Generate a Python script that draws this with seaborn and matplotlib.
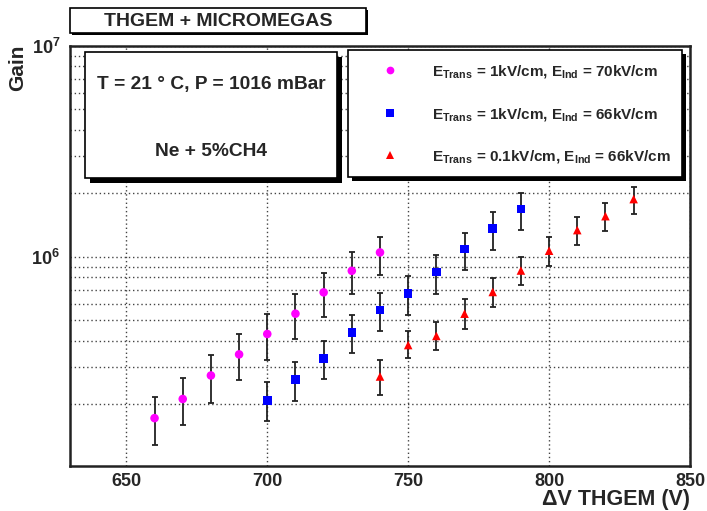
import numpy as np
import pandas as pd
import matplotlib
matplotlib.use("Agg")
import matplotlib.pyplot as plt
import seaborn as sns
from matplotlib.patches import Rectangle
from matplotlib.ticker import LogLocator, MultipleLocator, FixedLocator, NullFormatter, LogFormatterSciNotation

# ---------------- data ----------------
lab_mag = r"E$_{\mathrm{Trans}}$ = 1kV/cm, E$_{\mathrm{Ind}}$ = 70kV/cm"
lab_blue = r"E$_{\mathrm{Trans}}$ = 1kV/cm, E$_{\mathrm{Ind}}$ = 66kV/cm"
lab_red = r"E$_{\mathrm{Trans}}$ = 0.1kV/cm, E$_{\mathrm{Ind}}$ = 66kV/cm"

v_mag = [660, 670, 680, 690, 700, 710, 720, 730, 740]
g_mag = [1.72e5, 2.12e5, 2.74e5, 3.45e5, 4.31e5, 5.38e5, 6.79e5, 8.59e5, 1.05e6]
hi_mag = [2.17e5, 2.66e5, 3.41e5, 4.31e5, 5.36e5, 6.64e5, 8.4e5, 1.05e6, 1.24e6]
lo_mag = [1.28e5, 1.6e5, 2.04e5, 2.61e5, 3.25e5, 4.07e5, 5.2e5, 6.67e5, 8.25e5]

v_blue = [700, 710, 720, 730, 740, 750, 760, 770, 780, 790]
g_blue = [2.08e5, 2.62e5, 3.3e5, 4.38e5, 5.6e5, 6.72e5, 8.47e5, 1.09e6, 1.36e6, 1.69e6]
hi_blue = [2.54e5, 3.16e5, 3.99e5, 5.3e5, 6.75e5, 8.1e5, 1.02e6, 1.3e6, 1.64e6, 2.02e6]
lo_blue = [1.66e5, 2.07e5, 2.63e5, 3.5e5, 4.46e5, 5.32e5, 6.67e5, 8.71e5, 1.08e6, 1.34e6]

v_red = [740, 750, 760, 770, 780, 790, 800, 810, 820, 830]
g_red = [2.71e5, 3.82e5, 4.22e5, 5.38e5, 6.82e5, 8.62e5, 1.07e6, 1.34e6, 1.56e6, 1.88e6]
hi_red = [3.25e5, 4.43e5, 4.94e5, 6.29e5, 7.96e5, 1.0e6, 1.24e6, 1.54e6, 1.8e6, 2.15e6]
lo_red = [2.21e5, 3.3e5, 3.61e5, 4.56e5, 5.78e5, 7.34e5, 9.1e5, 1.14e6, 1.33e6, 1.6e6]

series = [
    (lab_mag, v_mag, g_mag, hi_mag, lo_mag, "#ff00ff", "o"),
    (lab_blue, v_blue, g_blue, hi_blue, lo_blue, "#0000ff", "s"),
    (lab_red, v_red, g_red, hi_red, lo_red, "#ff0000", "^"),
]

rows = []
for lab, vs, gs, his, los, col, mk in series:
    for v, g in zip(vs, gs):
        rows.append({"V": v, "Gain": g, "Config": lab})
df = pd.DataFrame(rows)

# ---------------- style ----------------
sns.set_style("white")
plt.rcParams["font.family"] = ["Liberation Sans", "DejaVu Sans"]
plt.rcParams["font.weight"] = "bold"
plt.rcParams["mathtext.fontset"] = "custom"
plt.rcParams["mathtext.rm"] = "Liberation Sans:bold"
plt.rcParams["mathtext.it"] = "Liberation Sans:bold"
plt.rcParams["mathtext.bf"] = "Liberation Sans:bold"
plt.rcParams["mathtext.default"] = "rm"

W, H = 707, 511
def fx(px):
    return px / W
def fy(py):
    return 1 - py / H

fig = plt.figure(figsize=(7.07, 5.11), dpi=100)
ax = fig.add_axes([fx(70), fy(466), (690 - 70) / W, (466 - 46) / H])

palette = {s[0]: s[5] for s in series}
markers = {s[0]: s[6] for s in series}

for lab, vs, gs, his, los, col, mk in series:
    g = np.array(gs)
    err = [g - np.array(los), np.array(his) - g]
    ax.errorbar(vs, g, yerr=err, fmt="none", ecolor="#222222", elinewidth=1.3,
                capsize=2, capthick=1.3, zorder=2)

sns.scatterplot(data=df, x="V", y="Gain", hue="Config", style="Config",
                palette=palette, markers=markers, s=38, linewidth=0,
                ax=ax, zorder=3, legend=True)
handles, labels = ax.get_legend_handles_labels()
ax.get_legend().remove()

ax.set_yscale("log")
ax.set_xlim(630, 850)
ax.set_ylim(1.02e5, 1e7)
ax.set_xlabel("")
ax.set_ylabel("")

ax.xaxis.set_major_locator(FixedLocator([650, 700, 750, 800, 850]))
ax.xaxis.set_minor_locator(MultipleLocator(10))
ax.yaxis.set_major_locator(LogLocator(base=10))
ax.yaxis.set_major_formatter(LogFormatterSciNotation())
ax.yaxis.set_minor_locator(LogLocator(base=10, subs=range(2, 10)))
ax.yaxis.set_minor_formatter(NullFormatter())

ax.tick_params(axis="both", which="both", direction="in", top=False, right=False,
               labelsize=13, color="#222222")
ax.tick_params(axis="y", which="major", length=17, width=1.5, pad=7)
ax.tick_params(axis="y", which="minor", length=9, width=1.3)
ax.tick_params(axis="x", which="major", length=10, width=1.5, pad=5)
ax.tick_params(axis="x", which="minor", length=6, width=1.3)

ax.grid(True, axis="y", which="both", ls=(0, (1, 2)), color="#444444", lw=1)
ax.grid(True, axis="x", which="major", ls=(0, (1, 2)), color="#444444", lw=1)
for sp in ax.spines.values():
    sp.set_linewidth(1.8)
    sp.set_color("#222222")

# ---------------- boxes ----------------
def box(x0, y0, x1, y1, sh, lw=1.2):
    fig.add_artist(Rectangle((fx(x0 + sh), fy(y1 + sh)), fx(x1 - x0), (y1 - y0) / H,
                             transform=fig.transFigure, facecolor="black",
                             edgecolor="none", zorder=3))
    fig.add_artist(Rectangle((fx(x0), fy(y1)), fx(x1 - x0), (y1 - y0) / H,
                             transform=fig.transFigure, facecolor="white",
                             edgecolor="black", lw=lw, zorder=4))

box(70, 8, 366, 33, 2)
fig.text(fx(218), fy(21), "THGEM + MICROMEGAS", ha="center", va="center",
         fontsize=14, weight="bold", zorder=6)

box(85, 52, 337, 178, 5)
fig.text(fx(211), fy(85), "T = 21 ° C, P = 1016 mBar", ha="center", va="center",
         fontsize=13.8, weight="bold", zorder=6)
fig.text(fx(211), fy(152), "Ne + 5%CH4", ha="center", va="center",
         fontsize=13.8, weight="bold", zorder=6)

box(348, 50, 682, 177, 4)
leg = fig.legend(handles, labels, loc="upper left", bbox_to_anchor=(fx(375), fy(63)),
                 bbox_transform=fig.transFigure, frameon=False, borderpad=0,
                 borderaxespad=0, handlelength=2, handletextpad=1.73,
                 labelspacing=1.68, fontsize=11, markerscale=0.9)
leg.set_zorder(7)

fig.text(fx(18), fy(45), "Gain", rotation=90, ha="center", va="top",
         fontsize=15, weight="bold")
fig.text(fx(690), fy(499), "ΔV THGEM (V)", ha="right", va="center",
         fontsize=15.5, weight="bold")

fig.savefig("out.png", dpi=100, facecolor="white")
